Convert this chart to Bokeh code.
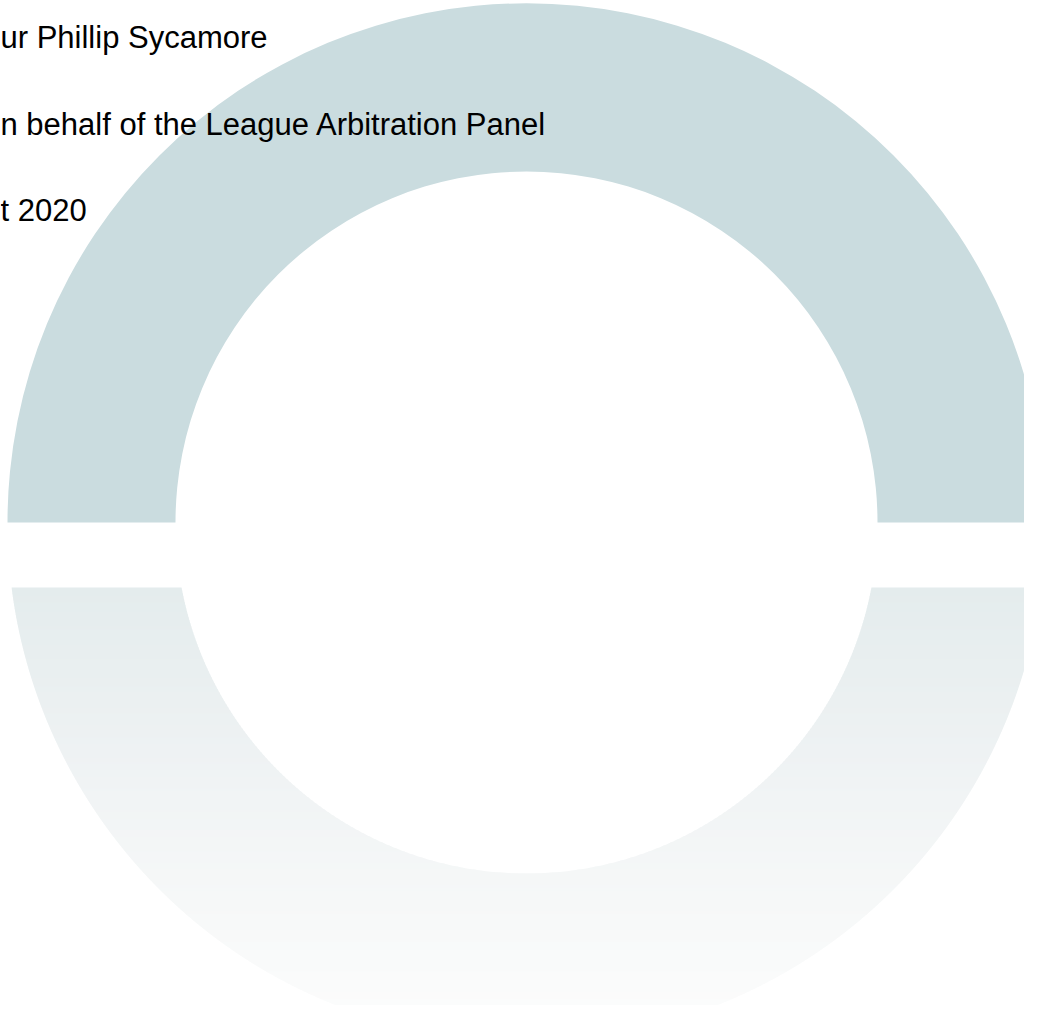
import numpy as np
from bokeh.plotting import figure
from bokeh.models import Range1d, ColumnDataSource
from bokeh.core.properties import value
from bokeh.embed import file_html
from bokeh.resources import INLINE

# ---- content ----
labels = ["ur Phillip Sycamore",
          "n behalf of the League Arbitration Panel",
          "t 2020"]

# ---- layout (reference pixel coordinates) ----
PW, PH = 1024, 1005          # plot size that fits the window with its 8px margin
label_left = 0
label_baseline = [37, 124, 210]
CX, CY = 526, 522
R_IN, R_OUT = 351, 519
GAP_BOTTOM = 587
TOP_COLOR = "#CADCDF"
grad_pos = [587, 700, 800, 900, 1041]
grad_rgb = [(228, 236, 237), (235, 240, 241), (241, 244, 245), (246, 248, 248), (253, 253, 253)]


def Y(sy):
    return PH - sy


p = figure(width=PW, height=PH,
           x_range=Range1d(0, PW), y_range=Range1d(0, PH),
           output_backend="svg", toolbar_location=None, min_border=0)
p.axis.visible = False
p.grid.visible = False
p.outline_line_color = None
p.background_fill_color = "white"
p.border_fill_color = "white"

# top half of ring
p.annular_wedge(x=CX, y=Y(CY), inner_radius=R_IN, outer_radius=R_OUT,
                start_angle=0, end_angle=np.pi, fill_color=TOP_COLOR, line_color=None)


# bottom half of ring with vertical gradient, built from thin strips
def hw(r, dy):
    return np.sqrt(np.clip(r * r - dy * dy, 0, None))


breaks = list(np.arange(GAP_BOTTOM, CY + R_OUT, 3.0)) + [CY + R_IN, CY + R_OUT]
breaks = sorted(set(breaks))
xs, ys, cols = [], [], []
for i in range(len(breaks) - 1):
    a, b = breaks[i], breaks[i + 1]
    bb = min(b + 0.8, CY + R_OUT) if i < len(breaks) - 2 else b
    yy = np.linspace(a, bb, 8)
    dy = yy - CY
    mid = 0.5 * (a + b)
    rgb = [int(round(np.interp(mid, grad_pos, [c[k] for c in grad_rgb]))) for k in range(3)]
    col = "#%02x%02x%02x" % tuple(rgb)
    ho = hw(R_OUT, dy)
    py = list(yy) + list(yy[::-1])
    if b <= CY + R_IN:
        hi = hw(R_IN, dy)
        xs.append(list(CX - ho) + list((CX - hi)[::-1])); ys.append([Y(v) for v in py]); cols.append(col)
        xs.append(list(CX + ho) + list((CX + hi)[::-1])); ys.append([Y(v) for v in py]); cols.append(col)
    else:
        xs.append(list(CX - ho) + list((CX + ho)[::-1])); ys.append([Y(v) for v in py]); cols.append(col)

p.patches(xs="xs", ys="ys", fill_color="c", line_color=None,
          source=ColumnDataSource(dict(xs=xs, ys=ys, c=cols)))

# texts
p.text(x=[label_left] * len(labels), y=[Y(v) for v in label_baseline], text=labels,
       text_align="left", text_baseline="alphabetic",
       text_font=value("Liberation Sans"), text_font_size="31px", text_color="#000000")

open("out.html", "w").write(file_html(p, INLINE))
